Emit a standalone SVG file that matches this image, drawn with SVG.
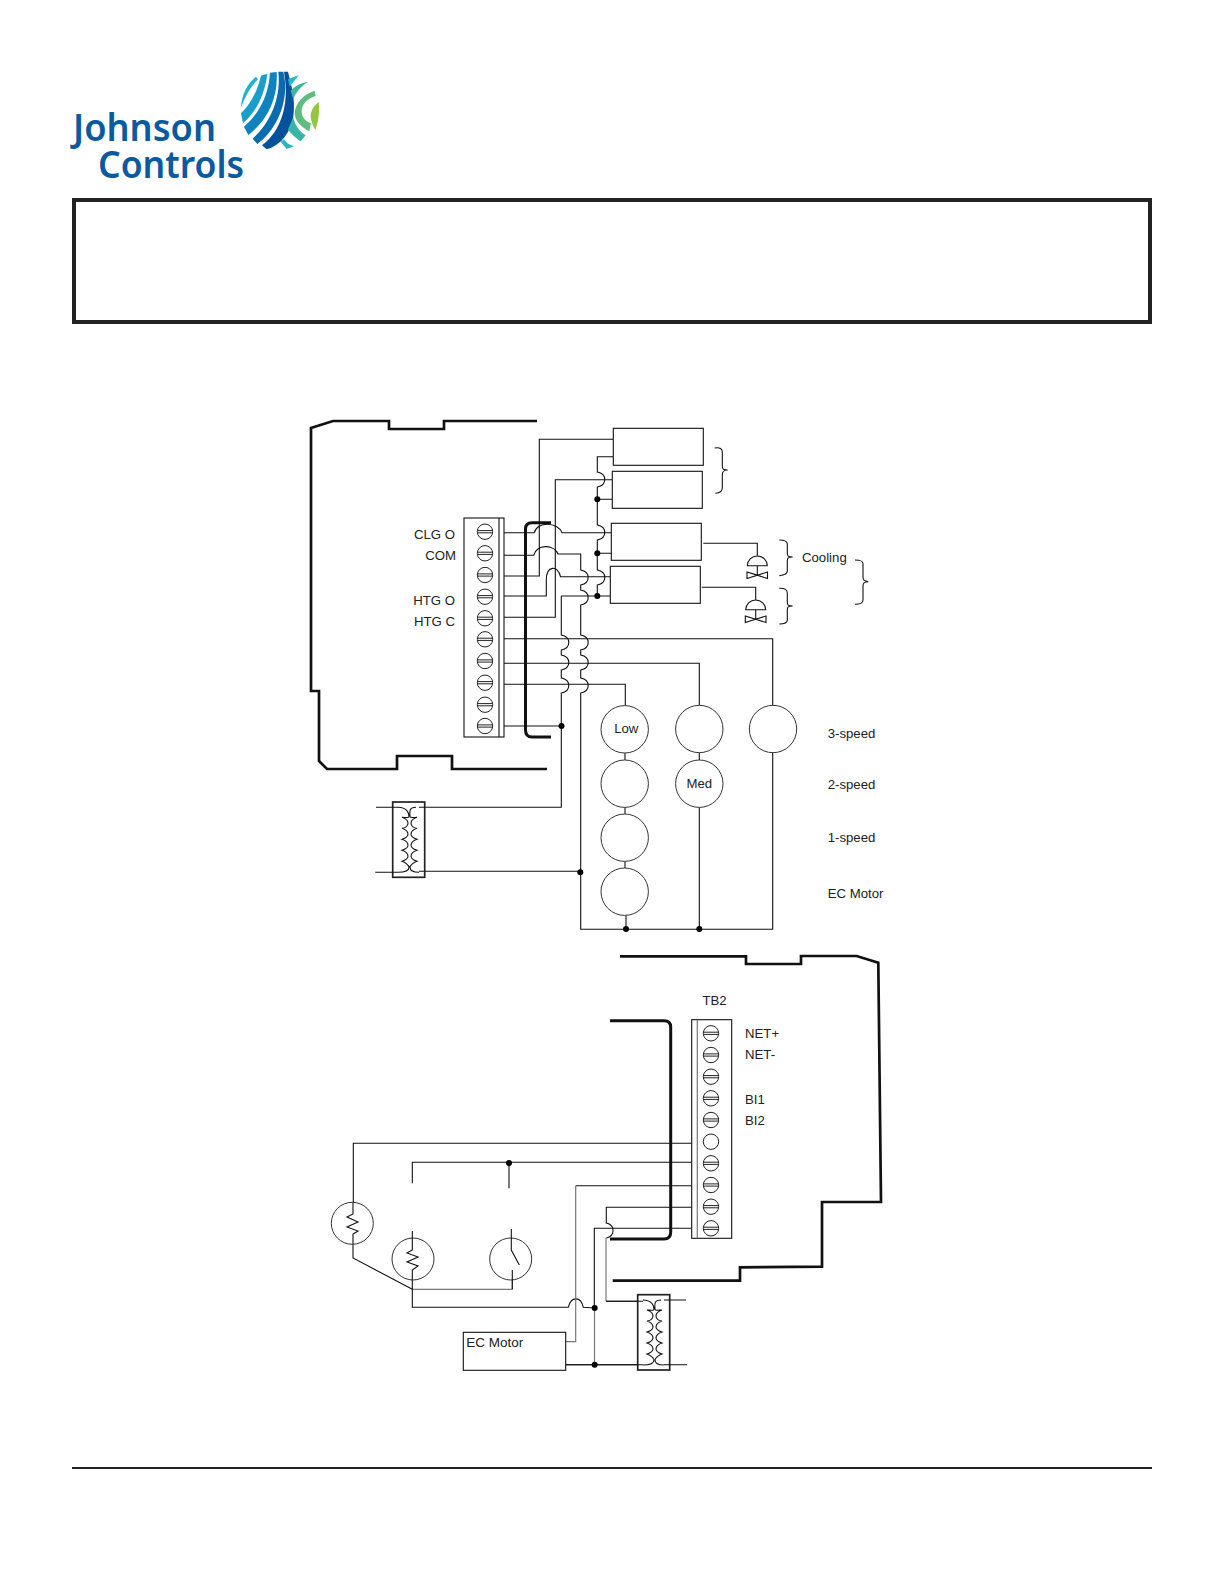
<svg xmlns="http://www.w3.org/2000/svg" width="1224" height="1584" viewBox="0 0 1224 1584">
<defs>
<style>
text{font-family:"Liberation Sans",Arial,sans-serif;font-size:13.2px;fill:#222}
.w{fill:none;stroke:#111;stroke-width:1.1}
.g{fill:none;stroke:#777;stroke-width:1.2}
.f{fill:none;stroke:#111;stroke-width:2.7;stroke-linejoin:miter}
.b{fill:#fff;stroke:#111;stroke-width:1.1}
.c{fill:#fff;stroke:#333;stroke-width:1}
.sl{fill:none;stroke:#222;stroke-width:1}
.d{fill:#000}
.logo{font-family:"Noto Sans","Open Sans",sans-serif;font-size:37px;font-weight:600;fill:#0a5a9f}
</style>
<g id="screw"><circle cx="0" cy="0" r="7.7" fill="#fff" stroke="#222" stroke-width="1"/><path class="sl" d="M-7.5,-1.1H7.5M-7.5,1.1H7.5"/></g>
<g id="coil"><path class="w" stroke-width="1" d="M-13,0C-4,0 -2,6 -2,9C-2,11 -6,10 -9,10C-6,11 -3,13 -3,16C-3,19 -6,21 -9,21C-6,22 -3,24 -3,27C-3,30 -6,31 -9,32C-6,33 -3,35 -3,38C-3,41 -6,42 -9,43C-6,44 -3,46 -3,49C-3,52 -6,53 -9,54C-6,55 -2,58 -2,60C-2,63 -6,65 -13,65M5,0C-3,0 -1,6 -1,9C-1,11 3,10 6,10C3,11 0,13 0,16C0,19 3,21 6,21C3,22 0,24 0,27C0,30 3,31 6,32C3,33 0,35 0,38C0,41 3,42 6,43C3,44 0,46 0,49C0,52 3,53 6,54C3,55 -1,58 -1,60C-1,63 2,65 8,65"/></g>
</defs>
<rect width="1224" height="1584" fill="#fff"/>

<g id="logo">
<text class="logo" x="73" y="141" textLength="143" lengthAdjust="spacingAndGlyphs">Johnson</text>
<text class="logo" x="98" y="178" textLength="146" lengthAdjust="spacingAndGlyphs">Controls</text>
<g transform="translate(60,60) scale(0.3333)">
<path fill="#1fb2d2" d="M588,50C560,72 545,105 543,143C548,130 553,118 560,105C568,88 580,72 594,58Z"/>
<path fill="#1a9fcb" d="M603,47L622,41C615,100 590,155 549,190L543,160C570,135 592,95 603,47Z"/>
<path fill="#0f82c0" d="M630,38L650,36C655,110 625,180 565,225L552,200C598,160 626,105 630,38Z"/>
<path fill="#0b6bb0" d="M655,35L670,35C690,115 655,205 592,252L578,236C630,190 664,115 655,35Z"/>
<path fill="#06509c" d="M672,35L684,35C692,70 708,115 700,170C692,215 665,255 620,268L606,256C655,220 692,145 672,35Z"/>
<path fill="#23b5c8" d="M684,58L716,46C706,60 696,70 689,80Z"/>
<path fill="#3fb59a" d="M692,92C705,78 725,68 744,66C725,78 708,95 700,118Z"/>
<path fill="#5ebd7e" d="M764,92C728,104 706,130 704,160C704,182 724,202 748,214L753,190C736,184 723,170 725,150C727,130 746,114 767,108Z"/>
<path fill="#93c83e" d="M776,126C760,138 751,155 752,170C754,186 760,200 766,210C774,190 780,155 776,126Z"/>
<path fill="#37b4a4" d="M700,172C705,198 720,216 737,226L722,244C704,232 690,218 684,208Z"/>
<path fill="#23b5c8" d="M672,238C680,250 690,256 702,259L680,267C675,260 668,252 662,246Z"/>
</g>
</g>

<g id="title-frame"><rect x="74" y="200" width="1076" height="122" fill="#fff" stroke="#222" stroke-width="4"/></g>
<g id="footer-rule"><path d="M72,1468H1152" stroke="#222" stroke-width="2" fill="none"/></g>

<g id="controller-frame-top"><path class="f" d="M537,421H444V429H389V421H333L311,428V691H319V761L327,769H397V756H452V769H547"/></g>
<g id="controller-frame-bottom"><path class="f" d="M620,956.3H746V964H801V956H856.7L878.3,962.7L881,1202H822V1266.7L740,1267.3V1280.7H612.7"/></g>

<g id="connectors">
<path class="w" d="M504,576H539.3V439.3H613"/>
<path class="w" d="M504,617.3H555.3V479.7H612"/>
<path class="w" d="M613,456.7H597.3V472c10,2 10,13 0,15V525c10,2 10,13 0,15V570c10,2 10,13 0,15V596"/>
<path class="w" d="M597.3,499.3H612M597.3,553.3H611M561.3,596H610"/>
<path class="w" d="M504,532.7H534.3C537,521 558,522 562,532.7H611"/>
<path class="w" d="M504,555.3H533.7C537,544 554,544 558,554H580.7V570c10,2 10,13 0,15V590c10,2 10,13 0,15V635c10,2 10,13 0,15V655c10,2 10,13 0,15V678c10,2 10,13 0,15V929.3H772.7V752.7"/>
<path class="w" d="M504,596H546.3V580C546.3,565 558,565 560.5,576.7H610"/>
<path class="w" d="M561.3,596V635c10,2 10,13 0,15V655c10,2 10,13 0,15V678c10,2 10,13 0,15V807.3H424.7"/>
<path class="w" d="M504,726H561.3"/>
<path class="w" d="M504,638.7H772.7V705.7"/>
<path class="w" d="M504,663.3H699.3V705.7"/>
<path class="w" d="M504,684.3H625.3V705.7"/>
<path class="w" d="M625,753V760M625,807V814M625,861V868M626,915.4V929M699.3,752.7V760M699.3,807.4V929"/>
<path class="w" d="M424.7,871.3H580.3"/>
<path class="w" d="M703.3,543.3H757.3V556M701.7,587.3H755.7V600"/>
<path class="w" d="M691.7,1143.3H353.3V1202.3M691.7,1162.3H412.3V1183.3M509,1163V1188.3"/>
<path class="w" d="M353,1244.3V1258L412.3,1289.3"/>
<path class="g" d="M412.3,1289.3H512.3V1270"/>
<path class="w" d="M412.3,1280V1307.3H568.3C571,1296 581,1296 583.3,1307.3L594.7,1308"/>
<path class="w" d="M691.7,1185.7H575.7"/>
<path class="g" d="M575.7,1185.7V1341.7H565.7"/>
<path class="w" d="M691.7,1207.3H606.3V1223c9,2 9,13 0,15"/>
<path class="g" d="M606,1238V1301.3"/>
<path class="w" d="M606,1301.3H646"/>
<path class="w" d="M691.7,1228.3H594.3V1308"/>
<path class="g" d="M594.5,1308V1364"/>
<path class="w" d="M565.7,1364.7H650"/>
</g>

<g id="junctions">
<circle class="d" cx="597.3" cy="499.3" r="3"/><circle class="d" cx="597.3" cy="553.3" r="3"/><circle class="d" cx="597.3" cy="596" r="3"/>
<circle class="d" cx="561.5" cy="726" r="3"/><circle class="d" cx="580.3" cy="872.3" r="3"/>
<circle class="d" cx="626" cy="929" r="3"/><circle class="d" cx="699.3" cy="929" r="3"/>
<circle class="d" cx="509" cy="1163" r="3"/><circle class="d" cx="594.7" cy="1308" r="3"/><circle class="d" cx="594.7" cy="1364.7" r="3"/>
</g>

<g id="bracket-top"><path fill="none" stroke="#111" stroke-width="3" d="M551,522.7H532Q525.5,522.7 525.5,529V730Q525.5,737 532,737H551"/></g>
<g id="bracket-bottom"><path fill="none" stroke="#111" stroke-width="3" d="M610,1020.7H664Q670.7,1020.7 670.7,1027V1232Q670.7,1239 664,1239H610"/></g>

<g id="relay-1"><rect class="b" x="613.3" y="428.3" width="90" height="37"/></g>
<g id="relay-2"><rect class="b" x="612.3" y="471.3" width="90" height="37"/></g>
<g id="relay-3"><rect class="b" x="611.3" y="523.3" width="90" height="37"/></g>
<g id="relay-4"><rect class="b" x="610.3" y="566.3" width="90" height="37"/></g>

<g id="valve-1"><path class="w" d="M747.3,565.7A10,9.7 0 0 1 767.3,565.7ZM757.3,565.7V575M747,572V578.5L767.5,572V578.5ZM757.3,575L747,572"/></g>
<g id="valve-2"><path class="w" d="M745.7,609.7A10,9.7 0 0 1 765.7,609.7ZM755.7,609.7V619M745.3,616V622.5L766,616V622.5Z"/></g>

<g id="braces">
<path class="w" d="M714.7,448C720,447 722.3,449 722.3,452V466C722.3,469 723,470 727.7,470C723,470 722.3,472 722.3,475V488C722.3,491 720,493 715.3,493.3" stroke="#444"/>
<path class="w" d="M779.3,540C785,540 787.3,541 787.3,544V553C787.3,556 788,557 792.7,557C788,557 787.3,558 787.3,561V571C787.3,574 785,575 779.3,575.7" stroke="#444"/>
<path class="w" d="M779.3,588.3C785,588 787.3,590 787.3,593V602C787.3,605 788,606 792.7,606C788,606 787.3,607 787.3,610V620C787.3,623 785,624 779.3,624" stroke="#444"/>
<path class="w" d="M855,560C861,560 863,561 863,564V577C863,580 864,581 868.3,581.7C864,582 863,583 863,586V600C863,603 861,604 855,604.3" stroke="#444"/>
</g>

<g id="terminal-block-1">
<rect class="b" x="464" y="518" width="40" height="219"/><path class="w" d="M499,518V737"/>
<use href="#screw" x="485" y="531.7"/><use href="#screw" x="485" y="553.3"/><use href="#screw" x="485" y="575"/><use href="#screw" x="485" y="596.7"/><use href="#screw" x="485" y="618.3"/><use href="#screw" x="485" y="639.3"/><use href="#screw" x="485" y="661"/><use href="#screw" x="485" y="682.7"/><use href="#screw" x="485" y="704.7"/><use href="#screw" x="485" y="726"/>
<g text-anchor="end"><text x="455" y="538.7">CLG O</text><text x="456" y="560">COM</text><text x="455" y="604.7">HTG O</text><text x="455" y="625.7">HTG C</text></g>
</g>

<g id="terminal-block-2">
<rect class="b" x="691.7" y="1019.7" width="40" height="218.6"/><path class="g" d="M697.3,1019.7V1238.3"/>
<use href="#screw" x="711" y="1033.3"/><use href="#screw" x="711" y="1055"/><use href="#screw" x="711" y="1076.7"/><use href="#screw" x="711" y="1098.3"/><use href="#screw" x="711" y="1120"/><circle cx="711" cy="1141.7" r="7.7" fill="#fff" stroke="#222"/><use href="#screw" x="711" y="1163.3"/><use href="#screw" x="711" y="1185"/><use href="#screw" x="711" y="1206.7"/><use href="#screw" x="711" y="1228.3"/>
<text x="702.5" y="1005">TB2</text><text x="745" y="1038">NET+</text><text x="745" y="1059.3">NET-</text><text x="745" y="1103.7">BI1</text><text x="745" y="1125">BI2</text>
</g>

<g id="motor-low"><circle class="c" cx="624.7" cy="729.3" r="23.7"/><text x="626.3" y="733" text-anchor="middle">Low</text></g>
<g id="motor-2"><circle class="c" cx="624.7" cy="783.7" r="23.7"/></g>
<g id="motor-3"><circle class="c" cx="624.7" cy="837.7" r="23.7"/></g>
<g id="motor-4"><circle class="c" cx="624.7" cy="891.7" r="23.7"/></g>
<g id="motor-5"><circle class="c" cx="699.3" cy="729" r="23.7"/></g>
<g id="motor-med"><circle class="c" cx="699.3" cy="783.7" r="23.7"/><text x="699.3" y="788" text-anchor="middle">Med</text></g>
<g id="motor-7"><circle class="c" cx="773" cy="729" r="23.7"/></g>

<g id="motor-labels"><text x="827.7" y="738.3">3-speed</text><text x="827.7" y="789.3">2-speed</text><text x="827.7" y="842">1-speed</text><text x="827.7" y="898.3">EC Motor</text><text x="802" y="561.7">Cooling</text></g>

<g id="transformer-1"><rect x="392.7" y="802" width="32" height="75.3" fill="#fff" stroke="#222" stroke-width="1.7"/><use href="#coil" x="411" y="807.3"/><path class="w" d="M376,807.3H398M375.3,872.3H398M419,807.3H425M419,871.3H425"/></g>
<g id="transformer-2"><rect x="637.7" y="1294.7" width="32" height="75.3" fill="#fff" stroke="#222" stroke-width="1.7"/><use href="#coil" x="656" y="1300"/><path class="w" d="M606,1301.3H643M565.7,1364.7H643M664,1300H686M664,1364.7H687"/></g>

<g id="sensor-1"><circle class="c" cx="352.3" cy="1223.3" r="21"/><path class="w" d="M353,1202.3V1214L347,1217L358,1222L347,1227L358,1231L353,1234V1244.3"/></g>
<g id="sensor-2"><circle class="c" cx="413" cy="1259" r="21"/><path class="w" d="M412.3,1231V1250L407,1253L418,1257L407,1262L418,1266L412.3,1270V1280"/></g>
<g id="switch"><circle class="c" cx="510.7" cy="1259" r="21"/><path class="w" d="M511.3,1229V1250L519.3,1265M512.3,1270V1289"/></g>

<g id="ec-motor"><rect class="b" x="463.3" y="1332.3" width="102.4" height="38"/><text x="466.3" y="1346.7" style="font-size:13.5px">EC Motor</text></g>
</svg>
